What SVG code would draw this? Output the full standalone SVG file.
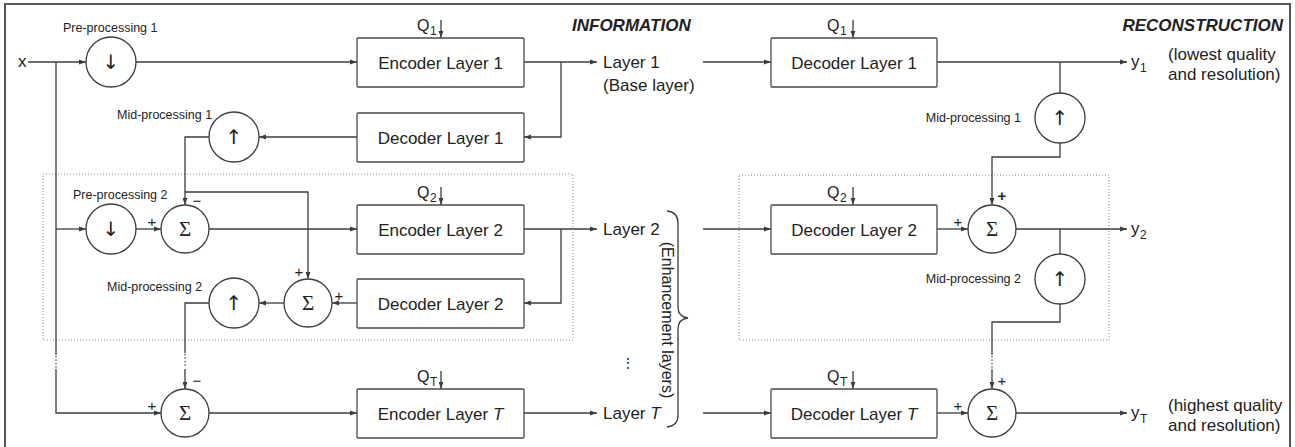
<svg xmlns="http://www.w3.org/2000/svg" width="1295" height="447" viewBox="0 0 1295 447">
  <style>
    .box { fill: #fff; stroke: #4a4a4a; stroke-width: 1.3; }
    .op { fill: #fff; stroke: #3c3c3c; stroke-width: 1.3; }
    .ln { fill: none; stroke: #3c3c3c; stroke-width: 1.3; }
    .dot { fill: none; stroke: #3c3c3c; stroke-width: 1.3; stroke-dasharray: 1.3 2.2; }
    .grp { fill: none; stroke: #8a8a8a; stroke-width: 1; stroke-dasharray: 1 2; }
    .frame { fill: none; stroke: #555; stroke-width: 2; }
    text { font-family: "Liberation Sans", Arial, sans-serif; fill: #222; }
    .lbl { font-size: 17px; }
    .mid { text-anchor: middle; }
    .small { font-size: 12.5px; }
    .sub { font-size: 12px; }
    .head { font-size: 17px; font-weight: bold; font-style: italic; }
    .sym { font-family: "DejaVu Sans", sans-serif; font-size: 20px; text-anchor: middle; fill: #222; }
    .sig { font-family: "Liberation Serif", "DejaVu Serif", serif; font-size: 21px; text-anchor: middle; }
    .pm { font-size: 15px; text-anchor: middle; }
  </style>
  <defs>
    <marker id="ah" markerUnits="userSpaceOnUse" markerWidth="8" markerHeight="6" viewBox="0 0 8 6" refX="7" refY="3" orient="auto">
      <path d="M0,0.6 L7,3 L0,5.4 z" fill="#3c3c3c"/>
    </marker>
  </defs>

  <!-- outer frame (open at the bottom edge) -->
  <path class="frame" d="M5,450 V4 H1290 V450"/>

  <!-- layer-2 groupings -->
  <rect class="grp" x="43" y="174" width="530" height="166"/>
  <rect class="grp" x="739" y="175" width="370" height="165"/>

  <!-- section headings -->
  <text class="head" x="572" y="31">INFORMATION</text>
  <text class="head" x="1283" y="31" text-anchor="end">RECONSTRUCTION</text>

  <!-- connectors -->
  <g id="connectors">
    <path class="ln" d="M28,62 H86" marker-end="url(#ah)"/>
    <path class="ln" d="M136,62 H357" marker-end="url(#ah)"/>
    <path class="ln" d="M56,62 V355"/>
    <path class="dot" d="M56,356 V368"/>
    <path class="ln" d="M56,369 V413 H161" marker-end="url(#ah)"/>
    <path class="ln" d="M56,229 H86" marker-end="url(#ah)"/>
    <path class="ln" d="M524,62 H597" marker-end="url(#ah)"/>
    <path class="ln" d="M561,62 V137 H524" marker-end="url(#ah)"/>
    <path class="ln" d="M357,137 H259" marker-end="url(#ah)"/>
    <path class="ln" d="M209,137 H185 V205" marker-end="url(#ah)"/>
    <path class="ln" d="M185,192 H308 V279" marker-end="url(#ah)"/>
    <path class="ln" d="M136,229 H161" marker-end="url(#ah)"/>
    <path class="ln" d="M209,229 H357" marker-end="url(#ah)"/>
    <path class="ln" d="M524,229 H597" marker-end="url(#ah)"/>
    <path class="ln" d="M561,229 V303 H524" marker-end="url(#ah)"/>
    <path class="ln" d="M357,303 H332" marker-end="url(#ah)"/>
    <path class="ln" d="M284,303 H259" marker-end="url(#ah)"/>
    <path class="ln" d="M209,303 H185 V353"/>
    <path class="dot" d="M185,354 V368"/>
    <path class="ln" d="M185,369 V389" marker-end="url(#ah)"/>
    <path class="ln" d="M209,413 H357" marker-end="url(#ah)"/>
    <path class="ln" d="M524,413 H597" marker-end="url(#ah)"/>

    <!-- quantiser inputs -->
    <path class="ln" d="M441,20 V38" marker-end="url(#ah)"/>
    <path class="ln" d="M441,187 V205" marker-end="url(#ah)"/>
    <path class="ln" d="M441,371 V389" marker-end="url(#ah)"/>
    <path class="ln" d="M853,20 V38" marker-end="url(#ah)"/>
    <path class="ln" d="M853,187 V205" marker-end="url(#ah)"/>
    <path class="ln" d="M853,371 V389" marker-end="url(#ah)"/>

    <!-- decoder side -->
    <path class="ln" d="M703,62 H771" marker-end="url(#ah)"/>
    <path class="ln" d="M703,229 H771" marker-end="url(#ah)"/>
    <path class="ln" d="M703,413 H771" marker-end="url(#ah)"/>
    <path class="ln" d="M937,62 H1127" marker-end="url(#ah)"/>
    <path class="ln" d="M1060,62 V93"/>
    <path class="ln" d="M1060,143 V157 H992 V205" marker-end="url(#ah)"/>
    <path class="ln" d="M937,229 H968" marker-end="url(#ah)"/>
    <path class="ln" d="M1016,229 H1127" marker-end="url(#ah)"/>
    <path class="ln" d="M1060,229 V254"/>
    <path class="ln" d="M1060,304 V322 H992 V355"/>
    <path class="dot" d="M992,356 V368"/>
    <path class="ln" d="M992,369 V389" marker-end="url(#ah)"/>
    <path class="ln" d="M937,413 H968" marker-end="url(#ah)"/>
    <path class="ln" d="M1016,413 H1127" marker-end="url(#ah)"/>

    <!-- enhancement brace -->
    <path class="ln" d="M667,211 Q678,212 678,223 V307 Q678,317 688,318 Q678,319 678,329 V415 Q678,426 667,427"/>
  </g>

  <!-- input -->
  <g id="input-x"><text class="lbl" x="18" y="67">x</text></g>

  <!-- encoder side -->
  <g id="pre1">
    <circle class="op" cx="111" cy="62" r="25"/>
    <text class="sym" x="111" y="69">↓</text>
    <text class="small" x="63" y="32">Pre-processing 1</text>
  </g>
  <g id="enc1">
    <rect class="box" x="357" y="38" width="167" height="49" rx="1"/>
    <text class="lbl mid" x="440.5" y="68.5">Encoder Layer 1</text>
    <text x="417" y="31" font-size="16">Q</text><text class="sub" x="430" y="35">1</text>
  </g>
  <g id="dec1-local">
    <rect class="box" x="357" y="113" width="167" height="49" rx="1"/>
    <text class="lbl mid" x="440.5" y="143.5">Decoder Layer 1</text>
  </g>
  <g id="mid1-local">
    <circle class="op" cx="234" cy="137" r="25"/>
    <text class="sym" x="234" y="144">↑</text>
    <text class="small" x="117" y="119">Mid-processing 1</text>
  </g>
  <g id="pre2">
    <circle class="op" cx="111" cy="229" r="25"/>
    <text class="sym" x="111" y="236">↓</text>
    <text class="small" x="73" y="199">Pre-processing 2</text>
  </g>
  <g id="sum2-enc">
    <circle class="op" cx="185" cy="229" r="24"/>
    <text class="sig" x="185" y="236">Σ</text>
    <text class="pm" x="152" y="227">+</text>
    <text class="pm" x="197" y="206">−</text>
  </g>
  <g id="enc2">
    <rect class="box" x="357" y="205" width="167" height="49" rx="1"/>
    <text class="lbl mid" x="440.5" y="235.5">Encoder Layer 2</text>
    <text x="417" y="198" font-size="16">Q</text><text class="sub" x="430" y="202">2</text>
  </g>
  <g id="dec2-local">
    <rect class="box" x="357" y="279" width="167" height="49" rx="1"/>
    <text class="lbl mid" x="440.5" y="309.5">Decoder Layer 2</text>
  </g>
  <g id="sum2-dec">
    <circle class="op" cx="308" cy="303" r="24"/>
    <text class="sig" x="308" y="310">Σ</text>
    <text class="pm" x="299" y="277">+</text>
    <text class="pm" x="339" y="301">+</text>
  </g>
  <g id="mid2-local">
    <circle class="op" cx="234" cy="303" r="25"/>
    <text class="sym" x="234" y="310">↑</text>
    <text class="small" x="107" y="291">Mid-processing 2</text>
  </g>
  <g id="sumT-enc">
    <circle class="op" cx="185" cy="413" r="24"/>
    <text class="sig" x="185" y="420">Σ</text>
    <text class="pm" x="152" y="411">+</text>
    <text class="pm" x="197" y="386">−</text>
  </g>
  <g id="encT">
    <rect class="box" x="357" y="389" width="167" height="49" rx="1"/>
    <text class="lbl mid" x="440.5" y="419.5">Encoder Layer <tspan font-style="italic">T</tspan></text>
    <text x="417" y="382" font-size="16">Q</text><text class="sub" x="430" y="386">T</text>
  </g>

  <!-- transmitted layers -->
  <g id="layers">
    <text class="lbl" x="603" y="68">Layer 1</text>
    <text class="lbl" x="603" y="91">(Base layer)</text>
    <text class="lbl" x="603" y="235">Layer 2</text>
    <text class="lbl" x="603" y="419">Layer <tspan font-style="italic">T</tspan></text>
    <text x="628" y="368" font-family="DejaVu Sans, sans-serif" font-size="14" text-anchor="middle">⋮</text>
    <text font-size="16" text-anchor="middle" transform="translate(668,320) rotate(90)" x="0" y="6">(Enhancement layers)</text>
  </g>

  <!-- decoder side -->
  <g id="dec1">
    <rect class="box" x="771" y="38" width="166" height="49" rx="1"/>
    <text class="lbl mid" x="854" y="68.5">Decoder Layer 1</text>
    <text x="827" y="31" font-size="16">Q</text><text class="sub" x="840" y="35">1</text>
  </g>
  <g id="mid1">
    <circle class="op" cx="1060" cy="118" r="25"/>
    <text class="sym" x="1060" y="125">↑</text>
    <text class="small" x="1021" y="122" text-anchor="end">Mid-processing 1</text>
  </g>
  <g id="dec2">
    <rect class="box" x="771" y="205" width="166" height="49" rx="1"/>
    <text class="lbl mid" x="854" y="235.5">Decoder Layer 2</text>
    <text x="827" y="198" font-size="16">Q</text><text class="sub" x="840" y="202">2</text>
  </g>
  <g id="sum2">
    <circle class="op" cx="992" cy="229" r="24"/>
    <text class="sig" x="992" y="236">Σ</text>
    <text class="pm" x="1002" y="201" font-weight="bold">+</text>
    <text class="pm" x="958" y="227">+</text>
  </g>
  <g id="mid2">
    <circle class="op" cx="1060" cy="279" r="25"/>
    <text class="sym" x="1060" y="286">↑</text>
    <text class="small" x="1021" y="283" text-anchor="end">Mid-processing 2</text>
  </g>
  <g id="decT">
    <rect class="box" x="771" y="389" width="166" height="49" rx="1"/>
    <text class="lbl mid" x="854" y="419.5">Decoder Layer <tspan font-style="italic">T</tspan></text>
    <text x="827" y="382" font-size="16">Q</text><text class="sub" x="840" y="386">T</text>
  </g>
  <g id="sumT">
    <circle class="op" cx="992" cy="413" r="24"/>
    <text class="sig" x="992" y="420">Σ</text>
    <text class="pm" x="1002" y="386">+</text>
    <text class="pm" x="958" y="411">+</text>
  </g>

  <!-- reconstructions -->
  <g id="outputs">
    <text class="lbl" x="1131" y="67">y</text><text class="sub" x="1140" y="72">1</text>
    <text class="lbl" x="1131" y="234">y</text><text class="sub" x="1140" y="239">2</text>
    <text class="lbl" x="1131" y="418">y</text><text class="sub" x="1140" y="423">T</text>
    <text class="lbl" x="1168" y="60">(lowest quality</text>
    <text class="lbl" x="1168" y="80">and resolution)</text>
    <text class="lbl" x="1168" y="411">(highest quality</text>
    <text class="lbl" x="1168" y="431">and resolution)</text>
  </g>
</svg>
